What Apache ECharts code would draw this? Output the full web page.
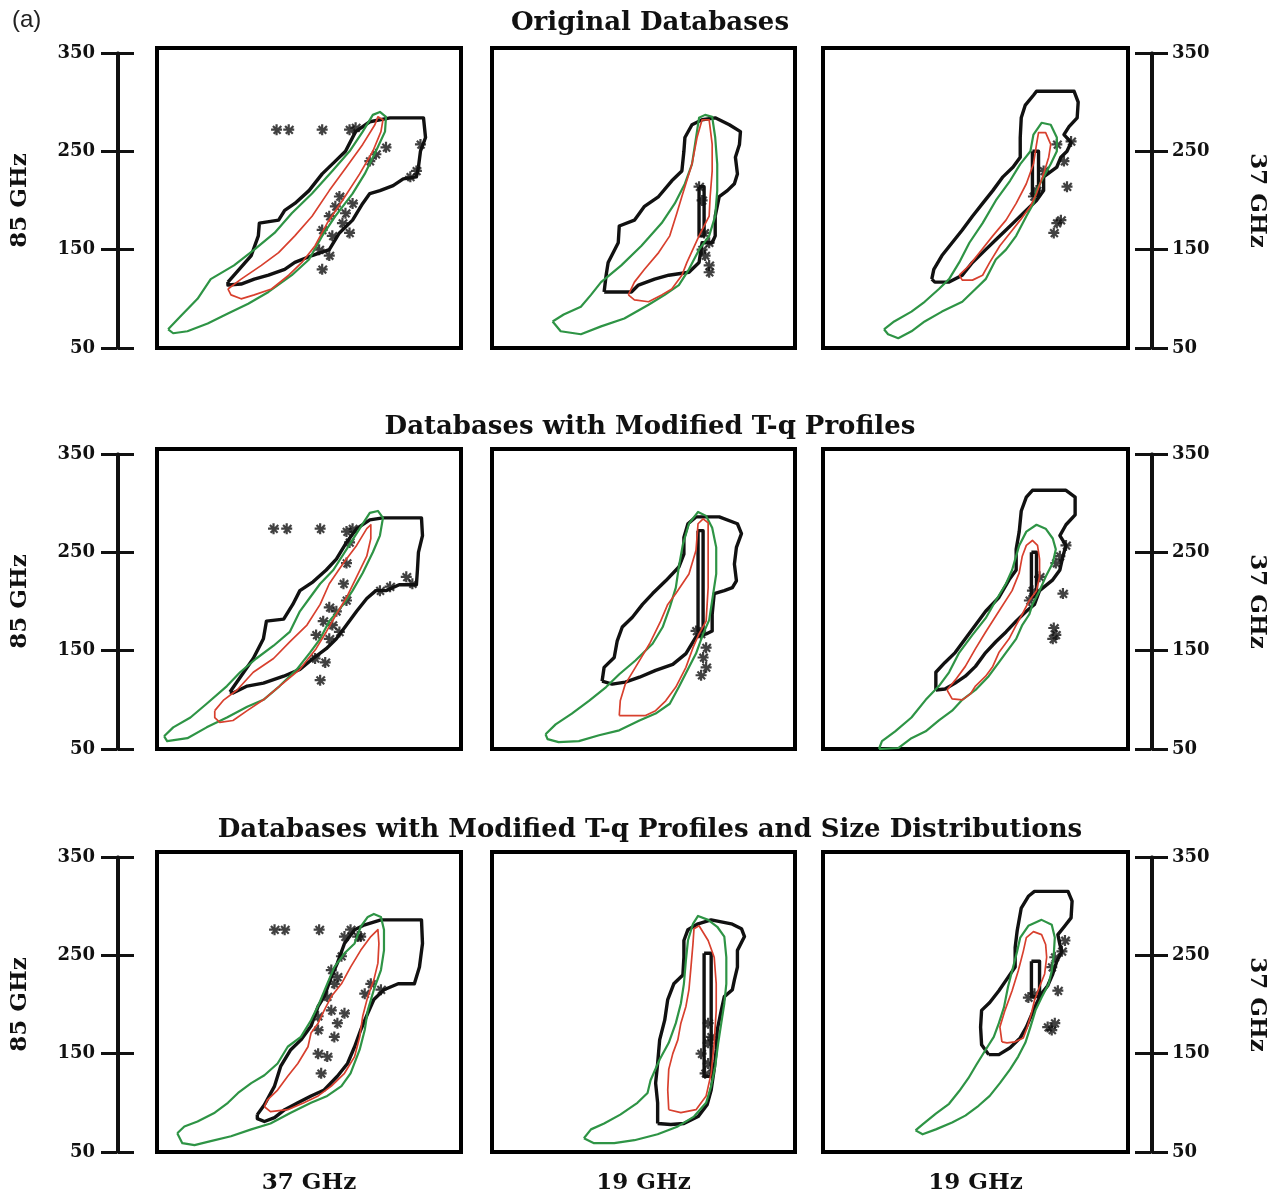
<!DOCTYPE html>
<html>
<head>
<meta charset="utf-8">
<script src="https://cdn.jsdelivr.net/npm/echarts@6/dist/echarts.min.js"></script>
<style>
  html, body { margin: 0; padding: 0; background: #fff; }
  #main { width: 1279px; height: 1199px; }
</style>
</head>
<body>
<div id="main"></div>
<script>
// texts
const rowTitles = ['Original Databases', 'Databases with Modified T-q Profiles',
  'Databases with Modified T-q Profiles and Size Distributions'];
const bottomNames = ['37 GHz', '19 GHz', '19 GHz'];
const leftName = '85 GHz';
const rightName = '37 GHz';
const tbTicks = [50, 150, 250, 350];

/** row 1 : original databases */
const p11Green = [[61,69],[73,82],[90,100],[103,120],[126,134],[146,150],[166,167],[183,187],[203,207],[223,230],[240,250],[253,270],[263,287],[270,290],[276,285],[275,270],[266,250],[255,227],[243,207],[226,184],[213,164],[200,140],[183,124],[160,107],[140,95],[120,85],[100,75],[80,67],[66,65]];
const p11Red = [[120,110],[133,120],[153,134],[170,147],[186,164],[203,184],[220,210],[237,234],[253,257],[265,277],[268,285],[273,282],[271,270],[263,250],[250,227],[233,200],[218,177],[206,154],[193,137],[180,124],[163,110],[146,104],[133,100],[123,104]];
const p11Black = [[120,117],[143,144],[150,164],[151,177],[170,180],[176,190],[186,197],[200,210],[213,227],[226,240],[236,250],[246,270],[260,280],[280,284],[313,284],[315,264],[310,250],[308,234],[306,224],[293,222],[283,215],[270,210],[260,207],[253,197],[243,180],[230,167],[220,150],[203,144],[186,137],[176,130],[160,124],[146,120],[133,115],[120,114]];
const p11Stars = [[168,272],[180,272],[213,272],[240,272],[246,274],[226,194],[220,184],[213,170],[233,177],[240,167],[223,164],[210,150],[220,144],[213,130],[236,187],[243,197],[230,204],[260,240],[266,247],[276,254],[300,224],[306,230],[310,257]];

const p12Green = [[110,77],[121,84],[138,92],[148,104],[158,117],[178,134],[198,154],[218,177],[231,197],[241,217],[248,237],[251,257],[255,284],[261,287],[268,285],[271,264],[273,237],[273,210],[271,184],[265,164],[255,150],[245,130],[235,114],[221,104],[205,94],[181,80],[158,72],[138,64],[118,67]];
const p12Red = [[185,104],[191,117],[201,130],[215,147],[226,164],[233,187],[238,204],[248,237],[253,264],[258,282],[265,282],[268,257],[268,230],[266,204],[265,184],[255,164],[243,137],[238,124],[228,110],[218,104],[205,97],[191,99]];
const p12Black = [[161,107],[163,124],[165,137],[175,157],[176,174],[191,180],[201,194],[215,204],[228,220],[238,230],[240,250],[241,264],[248,277],[258,282],[271,284],[285,277],[296,270],[295,257],[291,244],[293,227],[290,217],[283,210],[275,204],[271,184],[271,164],[268,157],[258,157],[255,137],[245,127],[225,124],[211,120],[195,114],[188,107]];
const p12Inner = [[255,214],[260,214],[260,164],[255,164]];
const p12Stars = [[260,167],[265,157],[261,144],[265,134],[265,127],[258,150],[255,214],[258,200]];

const p13Green = [[110,69],[120,77],[137,87],[150,97],[164,110],[174,120],[184,137],[194,157],[207,177],[220,200],[234,220],[244,237],[254,250],[257,267],[265,279],[274,277],[280,264],[280,250],[274,237],[267,224],[260,210],[257,197],[250,184],[240,164],[230,150],[220,140],[210,120],[200,110],[187,97],[167,87],[150,77],[137,67],[124,60],[114,64]];
const p13Red = [[184,124],[194,134],[204,147],[217,164],[230,180],[240,197],[250,217],[257,237],[260,257],[262,269],[269,269],[274,257],[272,244],[267,227],[260,207],[254,194],[244,180],[234,167],[224,154],[214,137],[207,124],[197,119],[187,119]];
const p13Black = [[157,120],[159,130],[167,144],[177,157],[187,170],[197,184],[207,197],[217,210],[227,224],[237,234],[244,244],[244,264],[245,284],[249,297],[257,307],[260,311],[297,311],[301,300],[300,284],[292,275],[287,267],[294,259],[290,250],[284,244],[280,234],[267,224],[267,210],[260,200],[250,190],[240,180],[230,170],[220,160],[210,150],[197,137],[187,124],[174,117],[160,117]];
const p13Inner = [[256,250],[262,250],[262,205],[256,205]];
const p13Stars = [[290,214],[280,177],[277,167],[284,180],[260,210],[257,204],[280,257],[287,240],[294,260],[267,230]];

/** row 2 : modified T-q profiles */
const p21Green = [[57,63],[66,72],[83,82],[99,96],[119,114],[132,128],[148,142],[165,155],[181,169],[191,190],[201,204],[211,218],[224,232],[237,253],[250,274],[260,290],[268,292],[273,285],[270,267],[263,250],[253,229],[243,211],[234,197],[220,180],[211,162],[201,148],[188,131],[171,114],[155,100],[139,93],[119,82],[99,72],[80,61],[60,58]];
const p21Red = [[107,89],[116,100],[129,110],[145,128],[165,142],[181,159],[198,176],[211,197],[220,218],[234,239],[247,257],[257,274],[261,278],[261,264],[257,246],[247,225],[237,204],[227,187],[217,169],[207,152],[191,131],[171,114],[155,100],[139,89],[125,79],[112,77],[107,82]];
const p21Black = [[122,108],[145,142],[155,162],[158,180],[175,182],[184,197],[191,211],[204,220],[217,232],[227,243],[237,260],[247,274],[260,283],[273,285],[311,285],[312,267],[308,250],[307,232],[306,217],[289,217],[276,211],[266,211],[257,203],[247,190],[237,176],[227,162],[217,152],[204,142],[191,131],[175,124],[155,117],[139,114],[125,107]];
const p21Stars = [[165,274],[178,274],[211,274],[237,271],[243,274],[220,194],[214,180],[207,166],[223,176],[230,169],[220,162],[206,142],[216,138],[211,120],[227,190],[237,201],[234,218],[237,239],[240,260],[280,215],[296,225],[302,218],[270,211]];

const p22Green = [[103,65],[113,75],[129,86],[146,99],[163,113],[176,126],[192,140],[209,157],[219,174],[226,194],[232,214],[235,235],[239,258],[245,279],[254,291],[262,287],[268,275],[272,255],[272,228],[268,201],[265,181],[259,167],[252,147],[245,133],[235,113],[226,96],[212,86],[196,79],[176,69],[156,64],[136,58],[116,57],[105,60]];
const p22Red = [[176,84],[177,99],[182,116],[192,133],[206,157],[217,180],[224,197],[232,208],[245,228],[252,252],[254,279],[259,284],[264,280],[264,252],[264,214],[262,180],[255,167],[249,153],[242,133],[232,113],[222,99],[212,89],[202,84],[189,84]];
const p22Black = [[159,119],[161,133],[171,143],[174,160],[179,174],[189,184],[199,197],[209,208],[222,221],[235,235],[240,248],[240,265],[244,279],[252,286],[275,286],[293,279],[297,269],[292,255],[290,238],[292,221],[288,214],[280,211],[270,208],[268,187],[268,170],[262,167],[252,164],[242,147],[229,136],[212,130],[196,123],[182,118],[169,116]];
const p22Inner = [[254,272],[259,272],[259,170],[254,170]];
const p22Stars = [[257,167],[262,153],[259,143],[262,133],[257,125],[252,170]];

const p23Green = [[105,50],[108,58],[121,68],[137,82],[151,100],[164,114],[174,128],[184,148],[197,166],[210,183],[220,201],[230,218],[236,232],[243,257],[250,271],[260,278],[269,274],[276,264],[279,253],[276,239],[269,225],[263,211],[256,197],[253,187],[246,176],[240,162],[230,148],[223,138],[213,124],[200,110],[187,100],[177,89],[164,79],[151,68],[137,61],[124,51]];
const p23Red = [[172,110],[180,120],[190,134],[200,152],[210,169],[223,190],[236,211],[243,229],[246,246],[250,257],[256,262],[261,257],[263,243],[263,225],[260,211],[253,201],[246,187],[240,176],[233,162],[223,148],[217,134],[210,124],[200,114],[195,106],[187,100],[177,101]];
const p23Black = [[161,110],[161,128],[170,138],[180,148],[190,162],[200,176],[210,190],[223,204],[233,222],[240,232],[240,253],[243,271],[245,292],[250,306],[256,313],[289,313],[298,306],[298,288],[289,278],[283,267],[289,257],[286,246],[283,232],[276,222],[263,211],[258,197],[250,190],[240,180],[230,169],[220,159],[210,148],[200,134],[190,124],[180,117],[170,111]];
const p23Inner = [[255,250],[260,250],[260,205],[255,205]];
const p23Stars = [[286,208],[279,166],[276,162],[277,173],[283,246],[279,239],[289,257],[256,211],[253,201],[263,225]];

/** row 3 : modified T-q profiles and size distributions */
const p31Green = [[70,69],[77,76],[90,81],[107,90],[120,100],[130,110],[143,120],[156,128],[169,140],[179,157],[192,167],[202,184],[210,201],[218,221],[225,238],[235,252],[245,262],[251,279],[258,289],[264,292],[271,289],[274,276],[274,255],[271,235],[264,215],[258,194],[255,174],[250,154],[241,130],[232,117],[218,107],[202,100],[182,90],[162,79],[143,73],[123,66],[103,61],[87,57],[75,59]];
const p31Red = [[156,96],[159,103],[169,113],[179,127],[189,140],[199,157],[202,171],[209,181],[215,194],[222,208],[232,221],[241,238],[251,255],[261,269],[268,276],[269,262],[268,242],[264,225],[258,208],[253,188],[250,167],[245,147],[235,130],[222,117],[209,107],[195,100],[179,93],[162,91]];
const p31Black = [[149,88],[156,98],[166,117],[172,137],[182,154],[192,164],[202,178],[209,198],[215,208],[222,228],[228,242],[235,262],[245,276],[255,281],[271,286],[311,286],[312,262],[309,238],[304,221],[288,221],[274,215],[264,205],[258,191],[251,174],[245,157],[238,140],[228,127],[215,113],[202,107],[189,100],[176,93],[166,85],[156,81],[149,84]];
const p31Stars = [[166,276],[176,276],[210,276],[235,269],[241,276],[248,269],[222,235],[225,221],[218,208],[222,194],[209,188],[235,191],[228,181],[209,174],[225,167],[209,150],[218,147],[212,130],[255,211],[261,221],[271,215],[232,249],[228,228],[251,269]];

const p32Green = [[141,64],[148,73],[161,79],[177,88],[194,100],[204,110],[207,123],[216,144],[225,161],[232,181],[237,201],[240,221],[242,245],[244,265],[249,282],[254,290],[264,286],[273,279],[280,269],[282,248],[282,221],[280,201],[277,181],[274,161],[271,137],[267,117],[262,100],[250,86],[234,76],[214,68],[191,62],[171,59],[151,59]];
const p32Red = [[225,93],[224,113],[225,134],[229,150],[234,164],[237,181],[242,198],[245,215],[247,238],[249,262],[250,277],[255,280],[264,265],[270,248],[272,221],[272,194],[270,161],[267,130],[262,107],[252,93],[237,90]];
const p32Black = [[214,79],[214,100],[212,120],[214,140],[216,164],[221,184],[224,205],[230,221],[239,230],[240,248],[240,265],[244,276],[254,282],[267,286],[287,282],[297,277],[300,269],[293,255],[293,238],[290,225],[288,215],[280,208],[277,194],[273,174],[272,154],[270,134],[267,113],[263,98],[254,86],[240,79],[227,78]];
const p32Inner = [[260,252],[267,252],[267,127],[260,127]];
const p32Stars = [[264,181],[257,150],[264,140],[261,130],[267,167],[264,161]];

const p33Green = [[141,72],[148,78],[161,89],[174,99],[184,112],[193,125],[201,139],[210,154],[218,167],[223,181],[228,197],[232,218],[237,238],[241,254],[244,268],[252,280],[265,286],[275,281],[278,268],[277,251],[275,234],[272,221],[265,207],[259,194],[254,177],[249,161],[242,147],[234,134],[224,120],[214,107],[203,97],[190,87],[177,80],[161,73],[148,68]];
const p33Red = [[226,162],[224,177],[229,194],[236,214],[242,234],[247,254],[250,268],[257,274],[265,271],[269,261],[270,248],[268,231],[263,218],[258,204],[255,191],[251,177],[247,166],[239,162],[231,161]];
const p33Black = [[213,149],[206,159],[205,177],[206,194],[214,202],[223,214],[231,226],[239,238],[239,258],[241,275],[245,298],[252,310],[258,315],[291,315],[295,305],[294,288],[288,280],[281,271],[283,261],[285,254],[280,244],[276,231],[271,219],[265,211],[260,201],[255,189],[250,177],[244,166],[234,156],[223,149]];
const p33Inner = [[255,244],[263,244],[263,208],[255,208]];
const p33Stars = [[281,214],[278,181],[275,174],[271,177],[288,265],[285,254],[278,248],[275,238],[258,211],[252,207]];

const panels = [
  { green: p11Green, red: p11Red, black: [p11Black], stars: p11Stars },
  { green: p12Green, red: p12Red, black: [p12Black, p12Inner], stars: p12Stars },
  { green: p13Green, red: p13Red, black: [p13Black, p13Inner], stars: p13Stars },
  { green: p21Green, red: p21Red, black: [p21Black], stars: p21Stars },
  { green: p22Green, red: p22Red, black: [p22Black, p22Inner], stars: p22Stars },
  { green: p23Green, red: p23Red, black: [p23Black, p23Inner], stars: p23Stars },
  { green: p31Green, red: p31Red, black: [p31Black], stars: p31Stars },
  { green: p32Green, red: p32Red, black: [p32Black, p32Inner], stars: p32Stars },
  { green: p33Green, red: p33Red, black: [p33Black, p33Inner], stars: p33Stars }
];

// layout
const colLeft = [157, 492, 823];
const colWidth = [304, 303, 305];
const rowTop = [48, 449, 852];
const boxH = 300;
const SERIF = 'DejaVu Serif';
const ASTERISK = 'path://M4,0h2v10h-2z M0,4h10v2h-10z M1,2.4l1.4,-1.4l7,7l-1.4,1.4z M8.6,1l1.4,1.4l-7,7l-1.4,-1.4z';

let grid = [], xAxis = [], yAxis = [], series = [];

function ring(pts) { return pts.concat([pts[0]]); }

function addLine(data, color, width, idx) {
  series.push({
    type: 'line', data: ring(data), xAxisIndex: idx, yAxisIndex: idx,
    symbol: 'none', silent: true, animation: false,
    lineStyle: { color: color, width: width, join: 'round' }
  });
}

// the 9 boxes
panels.forEach((p, k) => {
  const r = Math.floor(k / 3), c = k % 3;
  grid.push({ left: colLeft[c], top: rowTop[r], width: colWidth[c], height: boxH,
    show: true, borderColor: '#000', borderWidth: 4, backgroundColor: '#fff' });
  xAxis.push({
    gridIndex: k, type: 'value', min: 50, max: 350, show: r === 2,
    name: r === 2 ? bottomNames[c] : '', nameLocation: 'middle', nameGap: 20,
    nameTextStyle: { fontFamily: SERIF, fontWeight: 'bold', fontSize: 23, color: '#111' },
    axisLine: { show: false }, axisTick: { show: false }, axisLabel: { show: false },
    splitLine: { show: false }
  });
  yAxis.push({ gridIndex: k, type: 'value', min: 50, max: 355, show: false, splitLine: { show: false } });
  p.black.forEach(b => addLine(b, '#111', 3.4, k));
  addLine(p.green, '#2e9445', 2.2, k);
  addLine(p.red, '#d8402e', 1.7, k);
  series.push({
    type: 'scatter', data: p.stars, xAxisIndex: k, yAxisIndex: k,
    symbol: ASTERISK, symbolSize: 11, silent: true, animation: false,
    itemStyle: { color: '#111' }
  });
});

// the scale bars left (85 GHz) and right (37 GHz)
const axisStyle = { lineStyle: { color: '#111', width: 3 } };
function addScale(left, r, side) {
  const g = grid.length;
  grid.push({ left: left, top: rowTop[r] + 5, width: 1, height: boxH - 5 });
  xAxis.push({ gridIndex: g, type: 'value', show: false });
  ['left', 'right'].forEach(pos => {
    const withText = pos === side;
    yAxis.push({
      gridIndex: g, type: 'value', position: pos, min: tbTicks[0], max: tbTicks[tbTicks.length - 1],
      interval: 100, splitLine: { show: false },
      axisLine: Object.assign({ show: true }, axisStyle),
      axisTick: { show: true, length: 16, lineStyle: { color: '#111', width: 3 } },
      axisLabel: { show: withText, margin: pos === 'left' ? 22 : 20, color: '#111',
        fontFamily: SERIF, fontWeight: 'bold', fontSize: 18 },
      name: withText ? (pos === 'left' ? leftName : rightName) : '',
      nameLocation: 'middle', nameRotate: pos === 'left' ? 90 : -90,
      nameGap: pos === 'left' ? 85 : 93,
      nameTextStyle: { fontFamily: SERIF, fontWeight: 'bold', fontSize: 23, color: '#111' }
    });
    series.push({ type: 'line', data: [], xAxisIndex: g, yAxisIndex: yAxis.length - 1 });
  });
}
for (let r = 0; r < 3; r++) {
  addScale(117, r, 'left');
  addScale(1151, r, 'right');
}

const titles = rowTitles.map((t, i) => ({
  text: t, left: 645, top: [5, 409, 812][i], textAlign: 'center',
  textStyle: { fontFamily: SERIF, fontWeight: 'bold', fontSize: 26, color: '#111' }
}));
titles.push({ text: '(a)', left: 7, top: 3,
  textStyle: { fontFamily: 'Liberation Sans', fontWeight: 'normal', fontSize: 24, color: '#222' } });

const chart = echarts.init(document.getElementById('main'));
chart.setOption({
  backgroundColor: '#fff',
  animation: false,
  title: titles,
  grid: grid,
  xAxis: xAxis,
  yAxis: yAxis,
  series: series
});
</script>
</body>
</html>
